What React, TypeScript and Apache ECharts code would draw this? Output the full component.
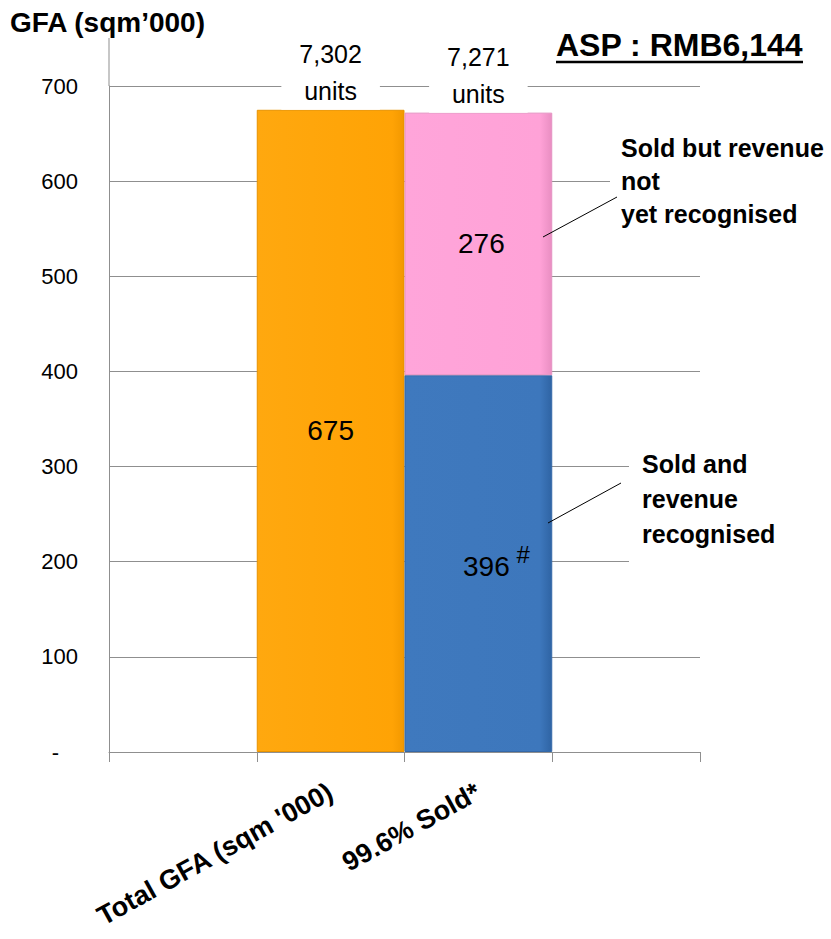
import React, { useEffect, useRef } from "react";
import * as echarts from "echarts";

const categories = ["", "Total GFA (sqm '000)", "99.6% Sold*", ""];
const totalGFA = [null, 675, null, null];
const soldRecognised = [null, null, 396, null];
const soldNotRecognised = [null, null, 276, null];
const unitCounts = ["", "7,302", "7,271", ""];
const barTotals = [null, 675, 672, null];
const yMin = 0;
const yMax = 700;
const yStep = 100;

const FONT = "'Liberation Sans', Arial, sans-serif";

export default function App() {
  const ref = useRef<HTMLDivElement>(null);
  useEffect(() => {
    document.body.style.margin = "0";
    const chart = echarts.init(ref.current!, null, { renderer: "svg" });
    const grey = "#8f8f8f";
    chart.setOption({
      animation: false,
      textStyle: { fontFamily: FONT },
      grid: { left: 109, right: 131, top: 86, bottom: 187, containLabel: false },
      xAxis: {
        type: "category",
        data: categories,
        axisLine: { lineStyle: { color: grey, width: 1 } },
        axisTick: { show: true, length: 10, alignWithLabel: false, interval: 0, lineStyle: { color: grey } },
        axisLabel: {
          interval: 0,
          rotate: 29,
          fontSize: 27,
          fontWeight: "bold",
          color: "#000",
          margin: 38,
          fontFamily: FONT,
        },
      },
      yAxis: {
        type: "value",
        min: yMin,
        max: yMax,
        interval: yStep,
        axisLine: { show: true, lineStyle: { color: grey } },
        axisTick: { show: false },
        splitLine: { lineStyle: { color: grey } },
        axisLabel: {
          fontSize: 22,
          color: "#000",
          margin: 31,
          fontFamily: FONT,
          formatter: (v: number) => (v === 0 ? "{d|-}" : String(v)),
          rich: { d: { fontSize: 22, padding: [0, 19, 0, 0], color: "#000", fontFamily: FONT } },
        },
      },
      series: [
        {
          type: "bar",
          name: "Total GFA",
          stack: "s",
          barWidth: "100%",
          data: totalGFA,
          itemStyle: {
            color: new echarts.graphic.LinearGradient(0, 0, 1, 0, [
              { offset: 0, color: "#FFA80F" },
              { offset: 0.92, color: "#FFA305" },
              { offset: 1, color: "#F29800" },
            ]),
            borderColor: "#E89300",
            borderWidth: 1,
          },
          label: { show: true, position: "inside", fontSize: 28, color: "#000", fontFamily: FONT },
        },
        {
          type: "bar",
          name: "Sold and revenue recognised",
          stack: "s",
          barWidth: "100%",
          data: soldRecognised,
          itemStyle: {
            color: new echarts.graphic.LinearGradient(0, 0, 1, 0, [
              { offset: 0, color: "#3F79BE" },
              { offset: 0.92, color: "#3D77BC" },
              { offset: 1, color: "#2F64A4" },
            ]),
            borderColor: "#3468A8",
            borderWidth: 1,
          },
          label: {
            show: true,
            position: "inside",
            offset: [18, 3],
            fontFamily: FONT,
            formatter: (p: any) => `{v|${p.value}}  {s|#}`,
            rich: {
              v: { fontSize: 28, color: "#000", fontFamily: FONT },
              s: { fontSize: 24, color: "#000", verticalAlign: "bottom", padding: [0, 0, 24, 0], fontFamily: FONT },
            },
          },
        },
        {
          type: "bar",
          name: "Sold but revenue not yet recognised",
          stack: "s",
          barWidth: "100%",
          data: soldNotRecognised,
          itemStyle: {
            color: new echarts.graphic.LinearGradient(0, 0, 1, 0, [
              { offset: 0, color: "#FFA5DA" },
              { offset: 0.92, color: "#FFA2D7" },
              { offset: 1, color: "#E98EC2" },
            ]),
            borderColor: "#E592C2",
            borderWidth: 1,
          },
          label: { show: true, position: "inside", offset: [3, 0], fontSize: 28, color: "#000", fontFamily: FONT },
        },
        {
          type: "scatter",
          name: "units",
          data: barTotals,
          symbolSize: 0,
          z: 10,
          itemStyle: { opacity: 1 },
          label: {
            show: true,
            position: "top",
            distance: 0,
            formatter: (p: any) => `${unitCounts[p.dataIndex]}\nunits`,
            fontSize: 25,
            lineHeight: 37,
            color: "#000",
            opacity: 1,
            backgroundColor: "#fff",
            padding: [0, 18, 0, 18],
            fontFamily: FONT,
          },
        },
      ],
      graphic: [
        {
          type: "text",
          z: 100,
          x: 10,
          y: 22,
          style: { text: "GFA (sqm’000)", font: `bold 28px ${FONT}`, fill: "#000", verticalAlign: "middle" },
        },
        {
          type: "text",
          z: 100,
          x: 556,
          y: 45,
          style: { text: "ASP : RMB6,144", font: `bold 32px ${FONT}`, fill: "#000", verticalAlign: "middle" },
        },
        {
          type: "line",
          z: 100,
          shape: { x1: 556, y1: 62, x2: 803, y2: 62 },
          style: { stroke: "#000", lineWidth: 2.5 },
        },
        {
          type: "line",
          z: 100,
          shape: { x1: 109, y1: 38, x2: 109, y2: 86 },
          style: { stroke: grey, lineWidth: 1 },
        },
        {
          type: "text",
          z: 100,
          x: 610,
          y: 131,
          style: {
            text: "Sold but revenue\nnot\nyet recognised",
            font: `bold 25px ${FONT}`,
            fill: "#000",
            lineHeight: 33,
            backgroundColor: "#fff",
            padding: [0, 4, 0, 11],
          },
        },
        {
          type: "line",
          z: 100,
          shape: { x1: 543, y1: 237, x2: 617, y2: 197 },
          style: { stroke: "#000", lineWidth: 1 },
        },
        {
          type: "text",
          z: 100,
          x: 629,
          y: 446,
          style: {
            text: "Sold and\nrevenue\nrecognised",
            font: `bold 25px ${FONT}`,
            fill: "#000",
            lineHeight: 35,
            backgroundColor: "#fff",
            padding: [0, 4, 14, 13],
          },
        },
        {
          type: "line",
          z: 100,
          shape: { x1: 548, y1: 523, x2: 621, y2: 483 },
          style: { stroke: "#000", lineWidth: 1 },
        },
      ],
    });
    return () => chart.dispose();
  }, []);
  return <div ref={ref} style={{ width: 831, height: 939 }} />;
}
